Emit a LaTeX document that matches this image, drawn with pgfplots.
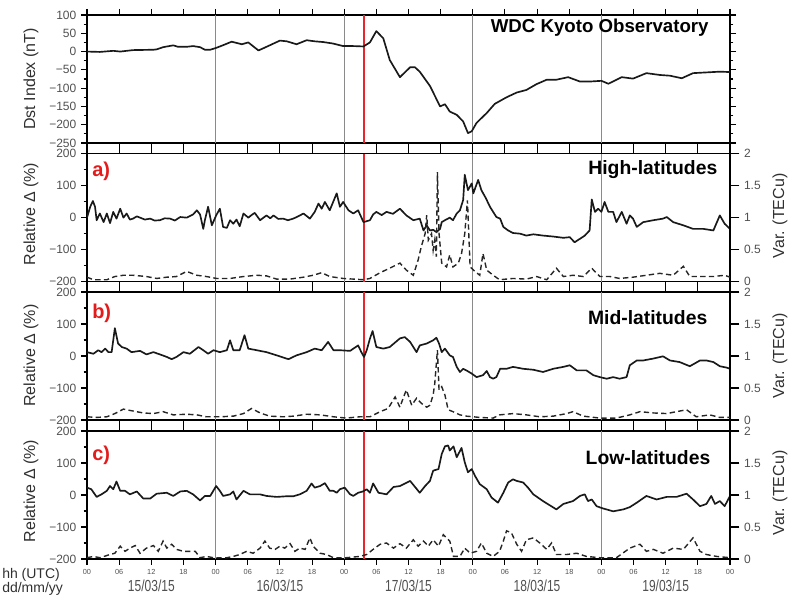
\documentclass[border=0pt]{standalone}
\usepackage{fontspec}
\setmainfont{Liberation Sans}
\usepackage{graphicx}
\usepackage{pgfplots}
\usepackage{pgfplotstable}
\pgfplotsset{compat=1.18}

\definecolor{tickgray}{HTML}{505050}
\definecolor{labgray}{HTML}{303030}
\definecolor{dayline}{HTML}{8A8A8A}
\definecolor{stormred}{HTML}{E8262B}
\definecolor{letterred}{HTML}{E31B1B}

\pgfplotstableread{
h v
0 0
2.4 -1
4.9 2
6.2 0
8.6 4
12.4 5
13.0 6
14.2 12
16.1 17
17.0 13
18.6 13
19.8 15
21.1 12
22.0 5
23.0 5
24.1 10
25.5 18
27.0 27
28.9 20
30.1 25
32.0 3
33.5 13
36.0 30
37.3 28
39.1 20
41.0 31
42.5 28
44.1 26
45.9 22
47.8 15
49.7 15
51.6 14
52.8 25
54.0 56
55.3 36
56.5 -23
58.4 -70
60.3 -43
61.2 -43
62.1 -55
64.0 -94
65.9 -150
66.8 -144
67.7 -164
69.0 -173
70.2 -191
71.1 -223
71.8 -218
72.7 -195
74.6 -168
76.1 -143
78.3 -125
80.2 -112
82.0 -105
83.9 -89
85.8 -77
87.6 -77
89.8 -70
92.0 -82
93.8 -82
96.0 -80
97.3 -88
99.8 -70
101.9 -74
104.4 -59
106.9 -64
108.8 -66
111.0 -73
113.1 -59
115.6 -57
118.1 -55
120 -56
}\dst

\pgfplotstableread{
h v
0 0
0.6 34
1.1 52
1.5 34
1.8 -8
2.4 13
3.1 -14
3.7 13
4.3 -17
4.9 18
5.5 -3
6.2 28
6.8 0
7.4 13
8.0 -6
8.6 -3
9.3 4
9.9 0
10.8 -6
11.8 -3
12.6 -9
13.6 -8
14.5 -2
15.5 -3
16.4 -9
17.4 2
18.6 0
19.8 10
20.5 23
21.1 10
21.7 -35
22.0 -8
22.6 34
23.3 -24
24.1 7
24.8 28
25.4 -29
26.1 -32
26.7 -8
27.3 -19
27.9 -6
28.5 -27
29.2 13
30.1 0
30.7 8
31.3 15
32.3 -8
33.5 7
34.2 -2
34.8 7
35.7 -4
36.6 -3
37.5 -8
38.5 -3
39.4 4
40.4 13
41.6 -3
42.5 18
43.2 44
43.8 28
44.4 49
45.3 23
46.6 76
47.2 34
47.8 49
48.8 23
49.7 13
50.6 23
51.6 -14
52.8 -8
53.4 10
54.0 18
55.0 8
55.9 18
57.1 12
58.4 28
59.6 7
60.9 -8
62.1 -3
62.8 -40
63.4 -24
64.0 -40
64.6 -38
65.2 -45
65.9 -35
66.2 -14
66.8 -8
67.7 0
68.3 -8
69.0 13
69.6 23
70.2 55
70.5 134
71.1 86
71.8 107
72.1 76
73.0 118
73.6 86
74.3 65
74.6 55
75.2 34
76.4 2
77.1 -3
77.7 -29
78.6 -40
79.5 -48
80.8 -50
82.0 -56
83.3 -52
85.1 -56
87.0 -59
88.9 -63
90.1 -61
91.0 -77
92.0 -66
92.9 -56
93.8 -40
94.2 57
94.8 18
95.4 28
96.0 18
96.6 49
97.3 18
98.2 18
98.8 -14
99.8 18
100.7 -19
101.3 7
101.9 -3
102.6 -29
103.8 -14
105.7 -8
107.5 -3
108.2 2
109.4 -14
111.3 -24
113.1 -35
115.0 -35
116.9 -40
118.1 7
119.0 -19
120 -35
}\hiS

\pgfplotstableread{
h v
0 0.07
1.2 0.03
3.7 0.03
5.2 0.08
6.8 0.10
8.6 0.10
11.1 0.08
13.0 0.05
14.9 0.07
16.7 0.08
18.6 0.16
20.5 0.10
22.3 0.08
24.2 0.05
26.7 0.05
29.2 0.08
31.7 0.10
33.5 0.09
35.4 0.04
37.9 0.04
40.4 0.07
42.2 0.10
43.8 0.14
45.3 0.08
47.8 0.05
49.7 0.04
51.6 0.03
52.8 0.05
54.7 0.14
56.5 0.21
58.4 0.29
59.6 0.18
60.9 0.10
61.8 0.34
62.4 0.55
63.1 0.75
63.4 1.04
63.7 0.65
64.3 0.75
64.6 0.49
64.9 0.65
65.2 0.39
65.4 1.71
65.7 0.75
66.2 0.29
67.1 0.23
67.7 0.42
68.3 0.23
69.3 0.29
69.9 0.44
70.5 0.75
71.0 1.27
71.5 0.23
72.4 0.16
73.3 0.10
73.9 0.44
74.6 0.18
75.8 0.10
77.0 0.03
79.5 0.05
82.0 0.04
83.9 0.08
85.8 0.03
87.6 0.21
88.9 0.08
90.7 0.10
92.6 0.08
94.2 0.21
95.7 0.08
97.6 0.08
99.4 0.05
101.9 0.07
104.4 0.10
106.9 0.13
109.4 0.10
111.3 0.24
112.5 0.08
114.4 0.08
116.9 0.08
119.0 0.10
120 0.07
}\hiD

\pgfplotstableread{
h v
0 12
1.2 7
2.1 18
2.7 12
3.4 23
4.0 12
4.6 12
5.2 87
5.8 39
6.5 28
7.4 23
8.3 12
9.9 16
11.1 5
12.4 12
13.6 5
14.9 -3
15.8 -10
16.7 -3
18.0 12
19.2 7
20.8 28
21.7 18
22.6 7
23.6 18
24.8 12
26.1 18
26.7 49
27.3 18
28.5 18
29.4 65
30.1 23
31.7 18
33.5 12
35.4 2
37.6 -10
39.1 2
41.0 12
42.5 23
43.8 18
45.0 44
46.0 18
47.2 18
49.1 16
50.6 33
51.2 12
51.7 -3
52.2 18
52.8 54
53.3 78
54.0 28
55.3 23
56.5 28
58.4 55
59.3 59
60.3 44
61.5 12
62.1 33
63.4 39
64.0 44
64.6 49
65.2 57
65.7 39
66.2 12
66.8 23
67.7 2
68.3 -3
69.0 -34
69.6 -50
70.2 -40
70.8 -45
71.8 -55
72.7 -66
73.9 -60
74.6 -47
75.2 -66
75.8 -71
76.4 -66
77.1 -40
78.3 -40
79.5 -34
81.4 -40
83.3 -43
85.1 -50
87.0 -40
88.9 -34
90.1 -29
91.4 -45
93.2 -45
94.5 -60
95.7 -66
97.0 -71
98.2 -66
99.4 -71
100.7 -66
101.3 -29
102.6 -14
103.8 -14
105.7 -8
107.5 -1
108.8 -14
110.6 -19
112.5 -32
114.4 -14
115.6 -14
116.9 -19
118.1 -32
119.3 -36
120 -40
}\midS

\pgfplotstableread{
h v
0 0.05
1.8 0.04
3.7 0.05
5.2 0.10
6.8 0.17
8.6 0.14
10.5 0.11
12.4 0.10
14.2 0.13
16.1 0.08
18.6 0.09
20.5 0.08
22.3 0.05
24.8 0.05
27.3 0.06
29.2 0.10
30.7 0.18
32.3 0.11
34.1 0.06
36.6 0.05
38.5 0.06
41.0 0.09
43.5 0.08
46.0 0.05
48.4 0.03
50.9 0.05
52.8 0.05
54.7 0.13
56.2 0.18
57.5 0.36
58.4 0.20
59.0 0.34
59.6 0.47
60.6 0.23
61.5 0.34
62.4 0.26
63.4 0.20
64.0 0.23
64.6 0.39
64.9 0.57
65.4 1.09
65.7 0.47
66.2 0.52
66.8 0.39
67.4 0.16
68.3 0.13
69.6 0.08
70.8 0.06
73.3 0.04
75.8 0.03
77.0 0.08
79.5 0.10
82.0 0.08
84.5 0.05
87.0 0.06
89.5 0.10
90.7 0.13
92.6 0.06
95.7 0.03
98.8 0.03
101.3 0.08
103.2 0.13
105.7 0.11
108.2 0.10
110.0 0.13
111.9 0.16
113.7 0.05
116.2 0.08
118.1 0.04
120 0.04
}\midD

\pgfplotstableread{
h v
0 23
0.8 18
1.8 -6
2.7 2
3.7 13
4.3 28
4.9 18
5.5 42
6.2 13
7.1 13
8.0 2
9.3 11
10.5 -11
11.8 -11
13.0 4
14.9 7
16.1 -3
17.4 11
18.6 13
19.8 2
21.1 -17
22.0 -3
23.0 -3
24.1 28
24.8 13
25.4 -3
26.7 2
27.3 11
27.9 -14
29.2 13
30.4 2
32.3 2
33.5 -3
35.4 -6
37.2 -4
38.5 -4
39.7 2
41.0 13
41.9 36
42.5 23
43.5 28
44.4 37
45.3 13
46.0 13
46.6 7
47.2 18
48.1 23
49.1 2
49.7 -3
50.6 7
51.5 11
52.2 18
52.8 7
53.4 36
54.4 7
55.9 2
57.2 25
58.4 28
60.3 44
62.1 7
63.1 28
64.0 44
64.6 76
65.6 81
66.2 128
66.8 152
67.4 155
67.7 139
68.4 152
69.0 118
69.9 147
70.5 102
71.1 71
71.8 81
72.4 60
73.3 34
74.6 18
75.5 -8
76.7 -24
77.7 7
78.6 39
79.5 49
80.2 44
81.4 39
82.3 23
83.3 2
85.1 -19
87.6 -45
88.9 -28
90.7 -19
92.0 -3
92.9 2
93.5 -19
94.2 -14
95.1 -35
96.3 -42
98.2 -51
100.1 -45
101.3 -38
102.6 -24
104.4 -3
106.3 -14
108.2 -6
110.0 -6
111.9 4
113.1 -14
114.4 -35
115.6 -28
116.5 -3
117.2 -28
118.1 -19
119.0 -35
120 -3
}\lowS

\pgfplotstableread{
h v
0 0.02
1.2 0.04
2.4 0.02
4.3 0.07
5.2 0.09
6.2 0.20
7.1 0.12
8.0 0.17
9.0 0.21
9.9 0.09
11.1 0.17
12.4 0.21
13.3 0.12
14.2 0.28
14.9 0.17
15.8 0.23
16.7 0.15
18.0 0.12
19.2 0.12
20.2 0.12
21.1 0.02
22.3 0.04
23.6 0.02
26.1 0.02
27.3 0.04
28.5 0.07
29.8 0.12
31.0 0.09
32.3 0.17
33.2 0.28
34.1 0.17
35.1 0.15
36.0 0.20
36.9 0.17
37.9 0.24
38.8 0.12
39.7 0.17
40.7 0.15
41.6 0.33
42.2 0.20
43.5 0.09
44.7 0.07
46.0 0.02
48.4 0.02
50.9 0.04
52.2 0.07
53.4 0.15
54.7 0.23
55.9 0.25
57.2 0.17
58.4 0.24
59.6 0.17
60.9 0.30
61.8 0.20
62.8 0.28
63.7 0.20
64.6 0.30
65.6 0.20
66.5 0.38
67.7 0.28
68.4 0.04
69.6 0.04
70.5 0.17
71.5 0.09
72.7 0.12
73.6 0.25
74.6 0.09
75.8 0.04
77.0 0.12
77.7 0.28
78.3 0.44
79.2 0.41
80.2 0.23
81.1 0.12
82.0 0.30
83.3 0.33
84.5 0.25
85.8 0.15
86.7 0.25
87.6 0.07
89.5 0.07
91.4 0.09
93.2 0.04
95.7 0.02
98.8 0.02
101.3 0.17
103.2 0.23
104.4 0.12
105.7 0.15
107.5 0.09
109.4 0.17
111.3 0.15
113.1 0.33
114.4 0.12
115.6 0.07
117.5 0.04
120 0.02
}\lowD

\pgfplotsset{
  panel/.style={
    scale only axis, width=482.25pt, height=96pt, anchor=south west,
    xmin=0, xmax=120, xtick={0,6,...,120}, xticklabels={},
    tick align=outside, xtick pos=both,
    axis line style={line width=1.2pt},
    major tick length=4.5pt, minor tick length=2.5pt,
    every tick/.style={black, line width=0.8pt},
    tick label style={font=\fontsize{9}{10}\selectfont, text=tickgray},
    /pgf/number format/assume math mode=true,
  },
  rel/.style={panel, ymin=-200, ymax=200, ytick={-200,-100,0,100,200},
    yticklabels={−200,−100,0,100,200}, minor y tick num=1, ytick pos=left},
  rightax/.style={
    scale only axis, width=482.25pt, height=96pt, anchor=south west,
    xmin=0, xmax=120, ymin=0, ymax=2, axis x line=none, axis y line*=right,
    ytick={0,0.5,1,1.5,2}, yticklabels={0,0.5,1,1.5,2},
    tick align=outside, major tick length=7pt,
    axis line style={line width=1.2pt},
    every tick/.style={black, line width=0.8pt},
    tick label style={font=\fontsize{9}{10}\selectfont, text=tickgray},
  },
  sline/.style={black!90, line width=1.25pt, line join=round},
  dline/.style={black!85, line width=1.05pt, dash pattern=on 4pt off 2.5pt},
  dayl/.style={dayline, line width=0.8pt, forget plot},
  redl/.style={stormred, line width=1.3pt, forget plot},
}

\begin{document}
\begin{tikzpicture}
\path[use as bounding box] (0,0) rectangle (592.5pt,446.25pt);

% ---------- Dst panel ----------
\begin{axis}[panel, at={(65.25pt,339pt)}, ymin=-250, ymax=100,
  ytick={-250,-200,...,100}, yticklabels={−250,−200,−150,−100,−50,0,50,100},
  minor y tick num=1, ytick pos=both]
\addplot[dayl] coordinates {(24,-250) (24,100)};
\addplot[dayl] coordinates {(48,-250) (48,100)};
\addplot[dayl] coordinates {(72,-250) (72,100)};
\addplot[dayl] coordinates {(96,-250) (96,100)};
\addplot[redl] coordinates {(51.7,-250) (51.7,100)};
\addplot[sline] table[x=h,y=v] {\dst};
\end{axis}

% ---------- a) ----------
\begin{axis}[rel, at={(65.25pt,235pt)}]
\addplot[dayl] coordinates {(24,-200) (24,200)};
\addplot[dayl] coordinates {(48,-200) (48,200)};
\addplot[dayl] coordinates {(72,-200) (72,200)};
\addplot[dayl] coordinates {(96,-200) (96,200)};
\addplot[redl] coordinates {(51.7,-200) (51.7,200)};
\addplot[sline] table[x=h,y=v] {\hiS};
\end{axis}
\begin{axis}[rightax, at={(65.25pt,235pt)}]
\addplot[dline] table[x=h,y=v] {\hiD};
\end{axis}

% ---------- b) ----------
\begin{axis}[rel, at={(65.25pt,131.25pt)}]
\addplot[dayl] coordinates {(24,-200) (24,200)};
\addplot[dayl] coordinates {(48,-200) (48,200)};
\addplot[dayl] coordinates {(72,-200) (72,200)};
\addplot[dayl] coordinates {(96,-200) (96,200)};
\addplot[redl] coordinates {(51.7,-200) (51.7,200)};
\addplot[sline] table[x=h,y=v] {\midS};
\end{axis}
\begin{axis}[rightax, at={(65.25pt,131.25pt)}]
\addplot[dline] table[x=h,y=v] {\midD};
\end{axis}

% ---------- c) ----------
\begin{axis}[rel, at={(65.25pt,27pt)},
  xticklabels={00,06,12,18,00,06,12,18,00,06,12,18,00,06,12,18,00,06,12,18,00},
  xticklabel style={font=\fontsize{5.5}{6}\selectfont, text=tickgray}]
\addplot[dayl] coordinates {(24,-200) (24,200)};
\addplot[dayl] coordinates {(48,-200) (48,200)};
\addplot[dayl] coordinates {(72,-200) (72,200)};
\addplot[dayl] coordinates {(96,-200) (96,200)};
\addplot[redl] coordinates {(51.7,-200) (51.7,200)};
\addplot[sline] table[x=h,y=v] {\lowS};
\end{axis}
\begin{axis}[rightax, at={(65.25pt,27pt)}]
\addplot[dline] table[x=h,y=v] {\lowD};
\end{axis}

% ---------- labels ----------
\node[rotate=90, text=labgray, font=\fontsize{12}{14}\selectfont] at (23.25pt,387pt) {Dst Index (nT)};
\node[rotate=90, text=labgray, font=\fontsize{12}{14}\selectfont] at (23.25pt,285.75pt) {Relative Δ (\%)};
\node[rotate=90, text=labgray, font=\fontsize{12}{14}\selectfont] at (23.25pt,179.5pt) {Relative Δ (\%)};
\node[rotate=90, text=labgray, font=\fontsize{12}{14}\selectfont] at (23.25pt,78pt) {Relative Δ (\%)};
\node[rotate=90, text=labgray, font=\fontsize{12}{14}\selectfont] at (585pt,284.25pt) {Var. (TECu)};
\node[rotate=90, text=labgray, font=\fontsize{12}{14}\selectfont] at (585pt,179.4pt) {Var. (TECu)};
\node[rotate=90, text=labgray, font=\fontsize{12}{14}\selectfont] at (585pt,76.5pt) {Var. (TECu)};

\node[anchor=east, font=\bfseries\fontsize{14}{16}\selectfont] at (535pt,425.5pt) {WDC Kyoto Observatory};
\node[anchor=east, font=\bfseries\fontsize{14.5}{16}\selectfont] at (541.5pt,318.75pt) {High-latitudes};
\node[anchor=east, font=\bfseries\fontsize{14.5}{16}\selectfont] at (534pt,207.75pt) {Mid-latitudes};
\node[anchor=east, font=\bfseries\fontsize{14.5}{16}\selectfont] at (536.25pt,103pt) {Low-latitudes};

\node[anchor=west, text=letterred, font=\bfseries\fontsize{15}{16}\selectfont, inner sep=0pt] at (69pt,318pt) {a)};
\node[anchor=west, text=letterred, font=\bfseries\fontsize{15}{16}\selectfont, inner sep=0pt] at (69pt,211pt) {b)};
\node[anchor=west, text=letterred, font=\bfseries\fontsize{15}{16}\selectfont, inner sep=0pt] at (69pt,104.5pt) {c)};

\foreach \xx/\dd in {113.5/15, 209.9/16, 306.4/17, 402.8/18, 499.3/19}{
  \node[text=tickgray, font=\fontsize{12}{13}\selectfont, inner sep=0pt] at (\xx pt,7pt) {\scalebox{0.75}[1]{\dd/03/15}};
}
\node[anchor=west, text=labgray, font=\fontsize{10.5}{12}\selectfont, inner sep=0pt] at (1.5pt,15pt) {hh (UTC)};
\node[anchor=west, text=labgray, font=\fontsize{10.5}{12}\selectfont, inner sep=0pt] at (1.5pt,4.5pt) {dd/mm/yy};
\end{tikzpicture}
\end{document}
